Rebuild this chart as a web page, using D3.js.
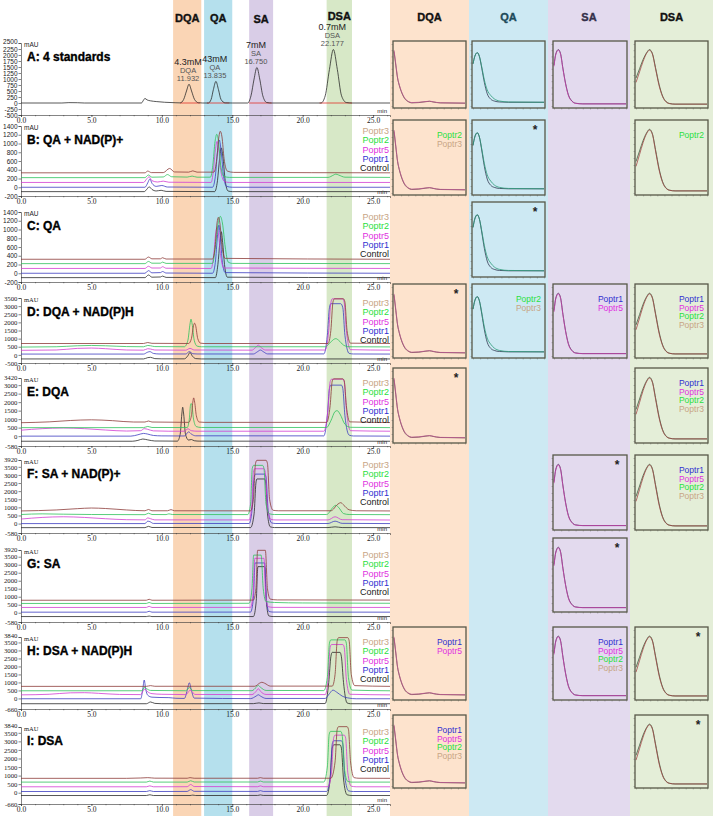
<!DOCTYPE html>
<html><head><meta charset="utf-8">
<script src="https://cdn.jsdelivr.net/npm/d3@7/dist/d3.min.js"></script>
<style>body{margin:0;background:#fff}svg{display:block}</style>
</head><body><svg id="c" width="713" height="816"></svg>
<script>
// ---------------- DATA ----------------
const seriesNames = ["Control","Poptr1","Poptr5","Poptr2","Poptr3"];
const legendOrder = ["Poptr3","Poptr2","Poptr5","Poptr1","Control"];
const compounds = ["DQA","QA","SA","DSA"];
const bandRanges = [[10.8,12.8],[13.0,15.0],[16.2,17.9],[21.7,23.5]];
const stdConc = ["4.3mM","43mM","7mM","0.7mM"];
const stdRT = [11.932,13.835,16.750,22.177];
const stdRTLabel = ["11.932","13.835","16.750","22.177"];
const stdPeakHeight = [780,900,1480,2230];
const stdBaselines = [[11.3,12.7],[13.2,14.8],[16.2,17.8],[21.2,23.5]];
const xTicks = [0,5,10,15,20,25];
const panelIds = ["A","B","C","D","E","F","G","H","I"];
const panelTitles = ["A: 4 standards","B: QA + NAD(P)+","C: QA","D: DQA + NAD(P)H","E: DQA","F: SA + NAD(P)+","G: SA","H: DSA + NAD(P)H","I: DSA"];
const ticksA = [2500,2250,2000,1750,1500,1250,1000,750,500,250,0,-250,-500];
const ticksB = [1400,1200,1000,800,600,400,200,0,-200];
const ticksC = [1400,1200,1000,800,600,400,200,0,-200];
const ticksD = [3500,3000,2500,2000,1500,1000,500,0,-500];
const ticksE = [3420,3000,2500,2000,1500,1000,500,0,-580];
const ticksF = [3920,3500,3000,2500,2000,1500,1000,500,0,-580];
const ticksG = [3920,3500,3000,2500,2000,1500,1000,500,0,-580];
const ticksH = [3840,3500,3000,2500,2000,1500,1000,500,0,-660];
const ticksI = [3840,3500,3000,2500,2000,1500,1000,500,0,-660];

const traceA = [[0,0],[2.9,0],[3.4,15],[4.0,12],[4.5,0],[8.55,0],[8.7,120],[8.8,190],[8.95,130],[9.2,90],[9.6,60],[10.2,30],[11.0,10],[11.3,5],[11.55,150],[11.75,500],[11.93,780],[12.11,500],[12.32,150],[12.6,10],[12.9,0],[13.3,0],[13.5,150],[13.66,560],[13.84,900],[14.02,560],[14.2,150],[14.5,5],[15,0],[16.1,0],[16.33,300],[16.55,1000],[16.75,1480],[16.95,1000],[17.17,300],[17.45,20],[17.8,0],[21.3,0],[21.6,300],[21.9,1400],[22.18,2230],[22.46,1400],[22.76,300],[23.1,20],[23.5,0],[26.2,0]];

const tracesB = {
 Control:[[0,-100],[8.75,-100],[8.95,-40],[9.1,10],[9.3,-50],[9.6,-85],[9.95,-70],[10.3,-95],[13.75,-100],[13.95,150],[14.1,650],[14.22,900],[14.35,650],[14.5,150],[14.7,-85],[15.0,-100],[26.2,-100]],
 Poptr1:[[0,0],[8.8,0],[9.0,100],[9.15,190],[9.3,90],[9.6,20],[10.0,40],[10.4,5],[13.6,0],[13.8,250],[13.95,800],[14.08,1080],[14.22,800],[14.38,250],[14.6,20],[15,0],[26.2,0]],
 Poptr5:[[0,110],[8.7,110],[8.95,200],[9.1,240],[9.3,150],[9.7,120],[10.1,140],[10.5,115],[13.5,110],[13.65,350],[13.8,850],[13.92,1050],[14.05,850],[14.2,350],[14.45,130],[14.8,110],[26.2,110]],
 Poptr2:[[0,220],[8.8,220],[9.05,280],[9.3,230],[10.1,235],[10.4,290],[10.7,240],[11.8,232],[12.15,255],[12.5,230],[13.45,230],[13.62,500],[13.78,1050],[13.9,1210],[14.02,1050],[14.18,500],[14.4,250],[14.8,225],[21.8,225],[22.2,280],[22.35,300],[22.55,280],[23.0,230],[26.2,225]],
 Poptr3:[[0,330],[8.8,330],[9.0,370],[9.25,335],[10.1,335],[10.55,430],[10.9,350],[11.9,345],[12.2,375],[12.5,345],[13.7,345],[13.9,650],[14.05,1150],[14.15,1280],[14.27,1150],[14.42,650],[14.65,370],[15.1,340],[26.2,330]]
};
const tracesC = {
 Control:[[0,-100],[8.8,-100],[9.05,-40],[9.3,-90],[9.9,-85],[10.05,-65],[10.3,-95],[13.8,-100],[13.98,200],[14.12,700],[14.22,950],[14.32,700],[14.45,200],[14.65,-90],[26.2,-100]],
 Poptr1:[[0,0],[8.8,0],[9.05,60],[9.3,10],[9.9,15],[10.05,40],[10.3,5],[13.6,0],[13.8,250],[13.95,850],[14.05,1100],[14.15,850],[14.3,250],[14.5,15],[26.2,0]],
 Poptr5:[[0,110],[8.8,110],[9.05,160],[9.3,120],[9.9,120],[10.05,150],[10.3,115],[13.5,110],[13.68,400],[13.82,900],[13.92,1050],[14.02,900],[14.18,400],[14.4,120],[26.2,110]],
 Poptr2:[[0,220],[8.8,220],[9.05,270],[9.3,230],[9.9,230],[10.05,255],[10.3,225],[13.6,225],[13.8,600],[14.0,1150],[14.15,1300],[14.3,1150],[14.5,600],[14.7,260],[15.0,225],[26.2,220]],
 Poptr3:[[0,320],[8.8,320],[9.05,370],[9.3,330],[9.9,330],[10.05,355],[10.3,325],[13.6,325],[13.78,600],[13.92,1150],[14.02,1280],[14.12,1150],[14.28,600],[14.5,340],[26.2,320]]
};
const tracesD = {
 Control:[[0,-250],[8.7,-250],[9.0,-170],[9.2,-150],[9.5,-230],[10,-245],[11.6,-245],[11.85,-50],[12.0,150],[12.15,-50],[12.4,-230],[12.8,-250],[26.2,-250]],
 Poptr1:[[0,50],[8.7,50],[9.0,170],[9.15,200],[9.4,90],[9.8,55],[11.7,55],[11.95,200],[12.2,70],[12.5,55],[16.5,55],[16.8,200],[17.0,300],[17.2,200],[17.5,60],[21.5,60],[21.75,1200],[21.9,2900],[22.0,3150],[22.7,3150],[22.85,2900],[23.0,1200],[23.3,90],[23.6,55],[26.2,50]],
 Poptr5:[[0,280],[2.5,300],[4.0,400],[5.0,420],[6.0,380],[7.5,300],[8.7,290],[9.0,380],[9.2,360],[9.5,300],[11.7,290],[12.0,400],[12.3,300],[16.4,290],[16.65,450],[16.85,600],[17.05,450],[17.35,300],[21.6,300],[21.85,1500],[22.0,3200],[22.1,3450],[22.85,3450],[22.95,3200],[23.1,1500],[23.4,320],[26.2,290]],
 Poptr2:[[0,480],[2.5,500],[4.0,560],[5.0,580],[6.0,560],[7.5,510],[8.7,500],[9.0,580],[9.2,560],[9.5,510],[11.6,500],[11.85,900],[12.0,1900],[12.07,2200],[12.15,1900],[12.3,900],[12.5,540],[12.8,500],[21.6,500],[21.9,700],[22.2,950],[22.35,1000],[22.55,900],[22.9,600],[23.3,500],[26.2,490]],
 Poptr3:[[0,700],[8.7,700],[9.0,760],[9.3,710],[11.9,700],[12.1,1000],[12.25,1800],[12.32,1950],[12.4,1800],[12.55,1000],[12.75,720],[13.0,700],[21.8,700],[22.0,1500],[22.15,3250],[22.25,3450],[22.9,3450],[23.0,3250],[23.15,1500],[23.4,720],[26.2,700]]
};
const tracesE = {
 Control:[[0,-300],[7.9,-300],[8.3,-250],[8.65,-170],[9.0,-220],[9.5,-285],[11.1,-295],[11.3,100],[11.42,1300],[11.48,1700],[11.55,1300],[11.68,100],[11.9,-230],[12.1,-200],[12.3,-270],[12.7,-295],[26.2,-300]],
 Poptr1:[[0,0],[7.8,0],[8.3,80],[8.7,160],[9.0,120],[9.4,40],[10.0,15],[11.6,10],[11.9,250],[12.1,120],[12.4,20],[21.5,15],[21.75,1200],[21.9,2800],[22.0,3000],[22.75,3000],[22.85,2800],[23.0,1200],[23.3,60],[23.6,10],[26.2,0]],
 Poptr5:[[0,350],[1.5,440],[3.0,480],[4.5,440],[6.0,360],[7.5,300],[8.5,320],[8.75,440],[9.0,400],[9.4,310],[10.5,290],[11.6,290],[11.85,430],[12.1,320],[12.5,290],[21.5,290],[21.8,1600],[21.95,3200],[22.05,3350],[22.85,3350],[22.95,3200],[23.1,1600],[23.4,320],[26.2,290]],
 Poptr2:[[0,500],[8.7,500],[9.0,570],[9.3,510],[11.8,505],[11.95,1000],[12.03,1800],[12.08,1920],[12.14,1800],[12.25,1000],[12.45,560],[12.8,510],[21.7,510],[22.0,900],[22.3,1450],[22.45,1500],[22.65,1300],[23.0,700],[23.4,520],[26.2,500]],
 Poptr3:[[0,790],[2.0,840],[3.5,920],[5.0,960],[6.5,910],[8.0,830],[8.8,830],[9.05,890],[9.3,830],[11.9,810],[12.1,1200],[12.2,2000],[12.26,2250],[12.33,2000],[12.45,1200],[12.65,830],[13,810],[21.7,810],[21.95,1800],[22.1,3250],[22.2,3370],[22.85,3370],[22.95,3250],[23.1,1800],[23.35,840],[26.2,800]]
};
const tracesF = {
 Control:[[0,-250],[8.8,-250],[9.05,-170],[9.3,-240],[16.3,-245],[16.55,600],[16.68,2500],[16.75,2750],[17.3,2750],[17.38,2500],[17.5,600],[17.7,-200],[18.0,-245],[21.8,-245],[22.3,-200],[22.8,-245],[26.2,-250]],
 Poptr1:[[0,0],[8.8,0],[9.0,150],[9.15,120],[9.4,10],[16.2,5],[16.4,800],[16.55,2850],[16.65,3050],[17.3,3050],[17.4,2850],[17.55,800],[17.8,40],[18.1,5],[21.8,5],[22.3,150],[22.8,15],[26.2,0]],
 Poptr5:[[0,280],[1.5,380],[3.0,420],[4.5,380],[6.0,300],[7.5,240],[8.8,230],[9.0,350],[9.2,300],[9.5,230],[16.2,225],[16.38,1000],[16.5,3150],[16.6,3380],[17.25,3380],[17.35,3150],[17.5,1000],[17.75,260],[18.1,225],[21.8,225],[22.3,420],[22.8,240],[26.2,220]],
 Poptr2:[[0,560],[1.5,600],[3,580],[5,560],[8.8,550],[9.05,640],[9.3,560],[10.3,555],[10.5,600],[10.75,560],[16.1,555],[16.3,1200],[16.42,3400],[16.52,3590],[17.15,3590],[17.25,3400],[17.4,1200],[17.65,600],[18.0,560],[21.7,560],[22.2,1050],[22.35,1130],[22.55,1000],[22.9,620],[23.3,560],[26.2,550]],
 Poptr3:[[0,780],[2.5,840],[4.0,920],[5.0,960],[6.0,930],[7.5,840],[8.8,790],[9.05,870],[9.3,790],[10.4,790],[10.65,860],[10.9,790],[16.3,785],[16.5,1500],[16.65,3700],[16.75,3900],[17.4,3900],[17.5,3700],[17.65,1500],[17.9,820],[18.3,790],[22.0,790],[22.5,1200],[22.7,1290],[22.9,1150],[23.3,850],[23.8,790],[26.2,780]]
};
const tracesG = {
 Control:[[0,-240],[8.9,-240],[9.1,-210],[9.3,-240],[16.5,-240],[16.7,700],[16.82,2880],[17.3,2880],[17.42,700],[17.6,-200],[17.9,-240],[26.2,-240]],
 Poptr1:[[0,35],[8.9,35],[9.1,90],[9.3,35],[16.3,40],[16.5,900],[16.62,3110],[17.3,3110],[17.42,900],[17.6,80],[17.9,40],[26.2,35]],
 Poptr5:[[0,330],[8.9,330],[9.1,400],[9.3,330],[16.3,335],[16.48,1200],[16.6,3400],[17.25,3400],[17.37,1200],[17.55,380],[17.9,335],[26.2,330]],
 Poptr2:[[0,580],[8.9,580],[9.1,640],[9.3,580],[16.2,590],[16.4,1500],[16.52,3600],[17.05,3600],[17.2,1500],[17.4,700],[18,640],[20,610],[26.2,590]],
 Poptr3:[[0,780],[8.9,780],[9.1,840],[9.3,780],[16.5,790],[16.68,1500],[16.8,3900],[17.35,3900],[17.5,1500],[17.7,850],[18.2,800],[26.2,790]]
};
const tracesH = {
 Control:[[0,-330],[8.9,-330],[9.2,-220],[9.5,-310],[10,-330],[16.5,-325],[16.9,-280],[17.2,-320],[21.6,-320],[21.85,1000],[22.0,2600],[22.1,2880],[22.65,2880],[22.75,2600],[22.9,1000],[23.15,-280],[23.4,-330],[26.2,-330]],
 Poptr1:[[0,-20],[8.5,-20],[8.65,600],[8.75,1150],[8.85,600],[9.0,200],[9.3,80],[9.8,60],[10.5,50],[11.0,10],[11.6,0],[11.8,500],[11.95,980],[12.1,500],[12.3,20],[16.3,-10],[16.7,150],[16.85,230],[17.0,150],[17.4,0],[21.6,0],[21.9,300],[22.15,520],[22.4,400],[22.8,150],[23.3,20],[23.8,-20],[26.2,-20]],
 Poptr5:[[0,224],[2.0,260],[3.5,350],[4.5,360],[5.5,320],[7.0,250],[8.5,240],[8.7,520],[8.8,600],[8.95,450],[9.3,300],[10,260],[11.7,240],[11.9,420],[12.0,520],[12.15,420],[12.35,250],[16.4,240],[16.7,450],[16.85,610],[17.0,450],[17.4,250],[21.6,240],[21.8,1200],[21.95,3200],[22.05,3370],[22.85,3370],[22.95,3200],[23.1,1200],[23.35,260],[26.2,224]],
 Poptr2:[[0,478],[8.6,480],[8.75,700],[8.9,620],[9.2,500],[11.7,480],[11.95,680],[12.2,490],[16.4,485],[16.7,700],[16.85,810],[17.0,700],[17.4,500],[21.5,490],[21.75,1300],[21.9,3450],[22.0,3660],[23.0,3660],[23.1,3450],[23.25,1300],[23.5,520],[26.2,478]],
 Poptr3:[[0,755],[8.9,755],[9.2,800],[9.5,760],[16.6,760],[16.95,960],[17.1,1010],[17.3,950],[17.7,770],[22.1,770],[22.3,1500],[22.45,3600],[22.55,3800],[23.2,3800],[23.3,3600],[23.45,1500],[23.7,800],[26.2,755]]
};
const tracesI = {
 Control:[[0,-165],[8.9,-165],[9.15,-120],[9.4,-165],[12.0,-165],[12.2,-140],[12.4,-165],[16.8,-160],[17.0,-130],[17.2,-160],[21.7,-160],[21.95,800],[22.1,2600],[22.2,2800],[22.65,2800],[22.75,2600],[22.9,800],[23.15,-120],[23.5,-165],[26.2,-165]],
 Poptr1:[[0,70],[8.9,70],[9.15,120],[9.4,70],[11.8,75],[12.05,180],[12.3,80],[16.8,75],[17.0,120],[17.2,75],[21.7,75],[21.95,900],[22.1,2850],[22.2,3035],[22.75,3035],[22.85,2850],[23.0,900],[23.25,110],[23.6,70],[26.2,70]],
 Poptr5:[[0,346],[8.9,346],[9.15,400],[9.4,346],[11.8,350],[12.05,480],[12.3,360],[16.8,350],[17.0,400],[17.2,350],[21.8,350],[22.05,1200],[22.2,3200],[22.3,3364],[22.95,3364],[23.05,3200],[23.2,1200],[23.45,380],[23.8,346],[26.2,346]],
 Poptr2:[[0,620],[8.9,620],[9.15,680],[9.4,620],[11.8,620],[12.05,700],[12.3,625],[16.8,625],[17.0,680],[17.2,625],[21.5,625],[21.75,1500],[21.88,3400],[21.98,3585],[22.7,3585],[22.8,3400],[22.95,1500],[23.2,660],[23.5,620],[26.2,620]],
 Poptr3:[[0,840],[7.5,840],[8.5,860],[9.0,880],[9.5,850],[11.8,845],[12.0,880],[12.3,845],[16.8,845],[17.0,880],[17.2,845],[22.0,845],[22.3,1800],[22.45,3700],[22.55,3860],[23.15,3860],[23.25,3700],[23.4,1800],[23.65,880],[24.0,845],[26.2,840]]
};

// UV spectra (wavelength nm, relative absorbance)
const specDQA = [[200,0.88],[205,0.66],[210,0.45],[215,0.33],[220,0.24],[230,0.12],[240,0.07],[250,0.05],[270,0.055],[290,0.07],[300,0.075],[310,0.065],[330,0.05],[400,0.045]];
const specDQA2 = [[200,0.9],[205,0.68],[210,0.46],[215,0.34],[220,0.25],[230,0.13],[240,0.075],[250,0.055],[270,0.06],[290,0.072],[300,0.078],[310,0.068],[330,0.052],[400,0.047]];
const specQA = [[200,0.68],[205,0.8],[212,0.86],[218,0.8],[225,0.6],[232,0.38],[240,0.2],[250,0.11],[260,0.08],[275,0.065],[300,0.06],[400,0.06]];
const specQA2 = [[200,0.68],[205,0.8],[212,0.86],[218,0.8],[225,0.62],[232,0.42],[240,0.26],[250,0.17],[260,0.115],[275,0.08],[300,0.065],[400,0.06]];
const specSA = [[200,0.66],[205,0.84],[212,0.91],[218,0.85],[225,0.6],[232,0.37],[240,0.18],[250,0.08],[260,0.045],[280,0.035],[400,0.035]];
const specSA2 = [[200,0.64],[205,0.83],[212,0.9],[218,0.84],[225,0.59],[232,0.36],[240,0.17],[250,0.075],[260,0.042],[280,0.034],[400,0.034]];
const specDSA = [[200,0.45],[210,0.6],[220,0.75],[230,0.86],[238,0.91],[246,0.85],[255,0.62],[265,0.35],[275,0.16],[285,0.07],[295,0.04],[310,0.03],[400,0.03]];
const specDSA2 = [[200,0.38],[210,0.55],[220,0.72],[230,0.85],[238,0.9],[246,0.84],[255,0.6],[265,0.33],[275,0.15],[285,0.065],[295,0.038],[310,0.03],[400,0.03]];

const specBoxes = [
 ["A","DQA",[],false],["A","QA",[],false],["A","SA",[],false],["A","DSA",[],false],
 ["B","DQA",["Poptr2","Poptr3"],false],["B","QA",[],true],["B","DSA",["Poptr2"],false],
 ["C","QA",[],true],
 ["D","DQA",[],true],["D","QA",["Poptr2","Poptr3"],false],["D","SA",["Poptr1","Poptr5"],false],["D","DSA",["Poptr1","Poptr5","Poptr2","Poptr3"],false],
 ["E","DQA",[],true],["E","DSA",["Poptr1","Poptr5","Poptr2","Poptr3"],false],
 ["F","SA",[],true],["F","DSA",["Poptr1","Poptr5","Poptr2","Poptr3"],false],
 ["G","SA",[],true],
 ["H","DQA",["Poptr1","Poptr5"],false],["H","SA",["Poptr1","Poptr5","Poptr2","Poptr3"],false],["H","DSA",[],true],
 ["I","DQA",["Poptr1","Poptr5","Poptr2","Poptr3"],false],["I","DSA",[],true]
];

// ---------------- STYLE / LAYOUT ----------------
const traceColor = {Control:"#2a2a2a",Poptr1:"#3c3cc0",Poptr5:"#d23cd2",Poptr2:"#2fc25a",Poptr3:"#8d3b38"};
const legendColor = {Control:"#1a1a1a",Poptr1:"#2f2fd0",Poptr5:"#e030e0",Poptr2:"#28e040",Poptr3:"#c8a585"};
const bandFill = ["#fad5b5","#b5e0ed","#d9cde7","#d7e8c7"];
const colBg = ["#fde3cd","#cde9f3","#e3daee","#e4eed8"];
const headColor = ["#111","#1d4a5a","#35304a","#111"];
const headY = [18,18,19,16];
const specCol = {DQA:["#6a4a4a","#b8568e"],QA:["#2e3850","#2c9a78"],SA:["#4a3a5a","#c43ca8"],DSA:["#3c5a3c","#a24848"]};
const SANS = "'Liberation Sans', Arial, sans-serif";
const SERIF = "'Liberation Serif', 'Times New Roman', serif";

const panelLayout = [[43,115],[126,196],[212,282],[298,363],[378,446],[460,533],[550,622],[637,709],[727,804]];
const panelTicks = [ticksA,ticksB,ticksC,ticksD,ticksE,ticksF,ticksG,ticksH,ticksI];
const panelTraces = [null,tracesB,tracesC,tracesD,tracesE,tracesF,tracesG,tracesH,tracesI];
const rowBoxY = {A:[41,108],B:[120,195],C:[202,277],D:[284,358],E:[368,443],F:[455,530],G:[538,612],H:[627,700],I:[715,788]};
const colBoxX = {DQA:[393,466],QA:[472,545],SA:[553,627],DSA:[635,708]};
const colX = [390,469,548,630,713];

const svg = d3.select("#c");
const x = d3.scaleLinear().domain([0,26.2]).range([21,390]);

// right column backgrounds
compounds.forEach((c,i)=>{
  svg.append("rect").attr("x",colX[i]).attr("y",0).attr("width",colX[i+1]-colX[i]).attr("height",816).attr("fill",colBg[i]);
  svg.append("text").attr("x",(colX[i]+colX[i+1])/2).attr("y",17).attr("dy","0.35em").attr("text-anchor","middle")
    .attr("font-family",SANS).attr("font-weight","bold").attr("font-size",11).attr("fill",headColor[i])
    .attr("stroke",headColor[i]).attr("stroke-width",0.35).text(c);
});
// left bands
bandRanges.forEach((r,i)=>{
  svg.append("rect").attr("x",x(r[0])).attr("y",0).attr("width",x(r[1])-x(r[0])).attr("height",816).attr("fill",bandFill[i]);
  svg.append("text").attr("x",(x(r[0])+x(r[1]))/2).attr("y",headY[i]).attr("dy","0.35em").attr("text-anchor","middle")
    .attr("font-family",SANS).attr("font-weight","bold").attr("font-size",11).attr("fill","#111")
    .attr("stroke","#111").attr("stroke-width",0.35).text(compounds[i]);
});

const line = (y)=> d3.line().x(d=>x(d[0])).y(d=>y(d[1])).curve(d3.curveMonotoneX);

panelIds.forEach((id,pi)=>{
  const [top,bot] = panelLayout[pi];
  const ticks = panelTicks[pi];
  const y = d3.scaleLinear().domain([d3.min(ticks),d3.max(ticks)]).range([bot,top]);
  const g = svg.append("g");
  const yFont = pi<3 ? SANS : SERIF;
  // y axis
  const ya = g.append("g").attr("transform","translate(21,0)")
    .call(d3.axisLeft(y).tickValues(ticks).tickSize(2.5).tickPadding(1).tickFormat(d=>d));
  ya.selectAll("text").attr("font-family",yFont).attr("font-size",pi<3?6.5:6.8).attr("fill","#222");
  // nudge crowded top label up
  const gap = y(ticks[1]) - y(ticks[0]);
  if(gap < 7.5){ ya.selectAll(".tick text").filter(d=>d===ticks[0]).attr("dy",`${0.32 - (7.5-gap)/7}em`); }
  ya.selectAll("line,path").attr("stroke","#333").attr("stroke-width",0.6);
  // x axis
  const xa = g.append("g").attr("transform",`translate(0,${bot})`)
    .call(d3.axisBottom(x).tickValues(xTicks).tickSize(2).tickPadding(0.5).tickFormat(d3.format(".1f")));
  xa.selectAll("text").attr("font-family",SERIF).attr("font-size",7.5).attr("fill","#222");
  xa.selectAll("line,path").attr("stroke","#333").attr("stroke-width",0.6);
  const xm = g.append("g").attr("transform",`translate(0,${bot})`)
    .call(d3.axisBottom(x).tickValues(d3.range(0,27,1)).tickSize(1.3).tickFormat(""));
  xm.selectAll("line").attr("stroke","#333").attr("stroke-width",0.5);
  xm.select("path").remove();
  g.append("text").attr("x",24).attr("y",top+2).attr("dy","0.35em").attr("font-family",yFont).attr("font-size",6.5).attr("fill","#222").text("mAU");
  g.append("text").attr("x",387).attr("y",bot-2.5).attr("text-anchor","end").attr("font-family",SANS).attr("font-size",6).attr("fill","#222").text("min");
  g.append("text").attr("x",27).attr("y",top+14).attr("dy","0.35em").attr("font-family",SANS).attr("font-weight","bold")
    .attr("font-size",12).attr("fill","#000").attr("stroke","#000").attr("stroke-width",0.35).text(panelTitles[pi]);

  if(pi===0){
    stdBaselines.forEach(b=>{
      g.append("path").attr("d",line(y)([[b[0],0],[b[1],0]])).attr("stroke","#e0302a").attr("stroke-width",0.8).attr("fill","none");
    });
    g.append("path").attr("d",line(y)(traceA)).attr("stroke","#222").attr("stroke-width",0.75).attr("fill","none");
    stdRT.forEach((rt,i)=>{
      const yy = y(stdPeakHeight[i]);
      const cx = x(rt)-1;
      g.append("text").attr("x",cx).attr("y",yy-22.5).attr("dy","0.35em").attr("text-anchor","middle").attr("font-family",SANS).attr("font-size",9).attr("fill","#222").text(stdConc[i]);
      g.append("text").attr("x",cx).attr("y",yy-14).attr("dy","0.35em").attr("text-anchor","middle").attr("font-family",SANS).attr("font-size",7.5).attr("fill","#555").text(compounds[i]);
      g.append("text").attr("x",cx).attr("y",yy-6).attr("dy","0.35em").attr("text-anchor","middle").attr("font-family",SANS).attr("font-size",7.5).attr("fill","#555").text(stdRTLabel[i]);
    });
  } else {
    const tr = panelTraces[pi];
    seriesNames.forEach(s=>{
      g.append("path").attr("d",line(y)(tr[s])).attr("stroke",traceColor[s]).attr("stroke-width",0.8).attr("fill","none");
    });
    legendOrder.forEach((s,k)=>{
      g.append("text").attr("x",389).attr("y",top+5+k*9.3).attr("dy","0.35em").attr("text-anchor","end")
        .attr("font-family",SANS).attr("font-size",9).attr("fill",legendColor[s]).text(s);
    });
  }
});

// spectra boxes
const specData = {DQA:[specDQA,specDQA2],QA:[specQA,specQA2],SA:[specSA,specSA2],DSA:[specDSA,specDSA2]};
specBoxes.forEach(([row,col,leg,star])=>{
  const [t,b] = rowBoxY[row];
  const [l,r] = colBoxX[col];
  const sx = d3.scaleLinear().domain([200,400]).range([l+1,r-1]);
  const sy = d3.scaleLinear().domain([0,1]).range([b-2,t+3]);
  const g = svg.append("g");
  const yl = g.append("g").attr("transform",`translate(${l},0)`).call(d3.axisLeft(sy).ticks(10).tickSize(1.5).tickFormat(""));
  yl.selectAll("line").attr("stroke","#666").attr("stroke-width",0.4); yl.select("path").remove();
  const xl = g.append("g").attr("transform",`translate(0,${b})`).call(d3.axisBottom(sx).ticks(8).tickSize(1.5).tickFormat(""));
  xl.selectAll("line").attr("stroke","#666").attr("stroke-width",0.4); xl.select("path").remove();
  const sl = d3.line().x(d=>sx(d[0])).y(d=>sy(d[1])).curve(d3.curveMonotoneX);
  specData[col].forEach((d,k)=>{
    g.append("path").attr("d",sl(d)).attr("fill","none").attr("stroke",specCol[col][k]).attr("stroke-width",0.8);
  });
  g.append("rect").attr("x",l).attr("y",t).attr("width",r-l).attr("height",b-t).attr("fill","none").attr("stroke","#575848").attr("stroke-width",1.3);
  leg.forEach((s,k)=>{
    g.append("text").attr("x",r-4).attr("y",t+15+k*8.7).attr("dy","0.35em").attr("text-anchor","end")
      .attr("font-family",SANS).attr("font-size",8.5).attr("fill",legendColor[s]).text(s);
  });
  if(star){
    g.append("text").attr("x",r-10).attr("y",t+14).attr("text-anchor","middle").attr("font-family",SANS)
      .attr("font-weight","bold").attr("font-size",12).attr("fill","#222").text("*");
  }
});
</script></body></html>
